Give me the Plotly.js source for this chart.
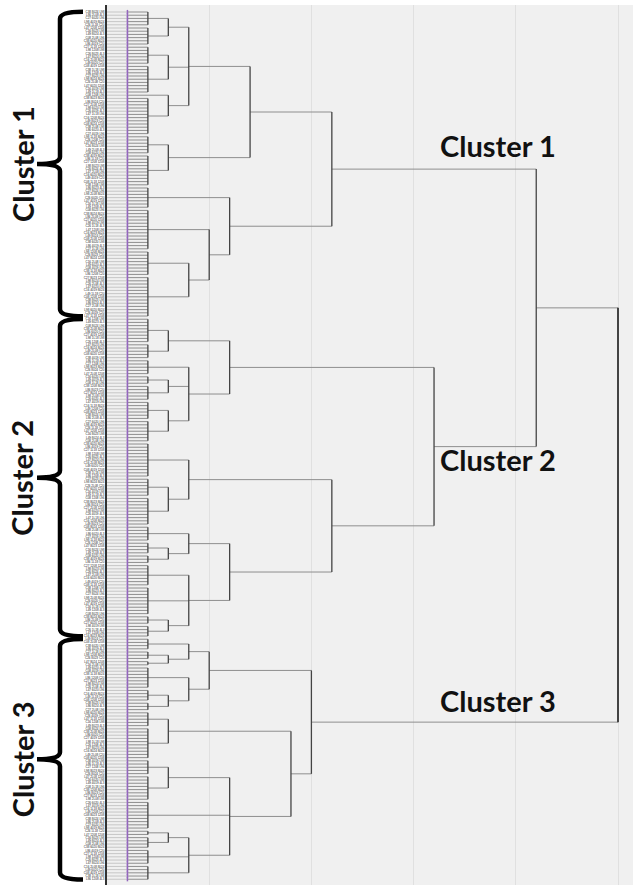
<!DOCTYPE html>
<html><head><meta charset="utf-8">
<script src="https://cdn.plot.ly/plotly-3.0.1.min.js"></script>
<style>html,body{margin:0;padding:0;background:#fff}</style>
</head><body><div id="chart" style="width:633px;height:886px"></div>
<script>
// ---- data ----
// merge height (distance) of each node; a plain number = a group of that many
// leaves joined at the first merge level (1 = a single leaf)
const leafTip = 0.2;
const baseMerge = 0.4;
const cluster1 = [2.2,
  [1.4,
    [0.8, [0.6, 5, 6], [0.6, 6, 9], [0.6, 1, 12]],
    [0.6, 6, 10]],
  [1.2, 7, [1.0, 13, [0.8, 8, 13]]]];
const cluster2 = [3.2,
  [1.2, [0.6, 8, 5], [0.8, 5, [0.6, 3, 5], [0.6, 6, 7]]],
  [2.2,
    [0.8, 11, [0.6, 6, 9]],
    [1.2, [0.8, 5, [0.6, 4, 3]], [0.8, 7, 9, [0.6, 3, 4]]]]];
const cluster3 = [2.0,
  [1.0, [0.8, 4, [0.6, 3, 2]], [0.8, 7, [0.6, 4, 3]]],
  [1.8, [0.6, 5, 10], [1.2, [0.6, 5, 8], 9, [0.8, [0.6, 2, 4], 5, 5]]]];
const mergeC12 = 4.2;
const mergeRoot = 5.0;
const clusterNames = ['Cluster 1', 'Cluster 2', 'Cluster 3'];
const labelPart1 = ['C38', 'L86', 'C27', 'L98', 'C26', 'L47', 'C16', 'L49', 'C08'];
const labelPart2 = ['8024', '1208', '4019', '2L08', '8023', '1L18', '6020'];
const labelPart3 = ['L98', '1208', 'C20', '8024', 'L96', '4L3'];

// ---- build dendrogram geometry ----
const clusters = [cluster1, cluster2, cluster3];
const tree = [mergeRoot, [mergeC12, cluster1, cluster2], cluster3];
function countLeaves(n) { return typeof n === 'number' ? n : n.slice(1).reduce((a, c) => a + countLeaves(c), 0); }
const nLeaves = countLeaves(tree);
const leafLabels = [];
for (let i = 0; i < nLeaves; i++) {
  leafLabels.push(labelPart1[i % labelPart1.length] + ' ' + labelPart2[(i * 3) % labelPart2.length] + ' ' + labelPart3[(i * 5) % labelPart3.length]);
}
const H = {x: [], y: []}, V = {x: [], y: []}, S = {x: [], y: []}, M = {x: [], y: []}, R = {x: [], y: []};
let next = 0;
function build(node) {
  if (typeof node === 'number') {
    const ids = [];
    for (let k = 0; k < node; k++) ids.push(next++);
    ids.forEach(i => { S.x.push(0, leafTip, null); S.y.push(i, i, null); M.x.push(leafTip); M.y.push(i); });
    if (node === 1) return {y: ids[0], h: leafTip};
    ids.forEach(i => { H.x.push(leafTip, baseMerge, null); H.y.push(i, i, null); });
    V.x.push(baseMerge, baseMerge, null); V.y.push(ids[0], ids[ids.length - 1], null);
    return {y: (ids[0] + ids[ids.length - 1]) / 2, h: baseMerge};
  }
  const h = node[0];
  const kids = node.slice(1).map(build);
  kids.forEach(k => { H.x.push(k.h, h, null); H.y.push(k.y, k.y, null); });
  const ys = kids.map(k => k.y);
  const lo = Math.min(...ys), hi = Math.max(...ys);
  const tgt = (node === tree) ? R : V;
  tgt.x.push(h, h, null); tgt.y.push(lo, hi, null);
  return {y: (lo + hi) / 2, h: h};
}
build(tree);

// cluster leaf ranges
const ranges = [];
let start = 0;
clusters.forEach(c => { const n = countLeaves(c); ranges.push([start, start + n - 1]); start += n; });

const traces = [
  {type: 'scatter', mode: 'lines', x: S.x, y: S.y, line: {color: '#c6c6c6', width: 1}, hoverinfo: 'skip', connectgaps: false},
  {type: 'scatter', mode: 'lines', x: H.x, y: H.y, line: {color: '#8e8e8e', width: 1}, hoverinfo: 'skip', connectgaps: false},
  {type: 'scatter', mode: 'lines', x: V.x, y: V.y, line: {color: '#444', width: 1.3}, hoverinfo: 'skip', connectgaps: false},
  {type: 'scatter', mode: 'lines', x: R.x, y: R.y, line: {color: '#444', width: 2}, hoverinfo: 'skip'},
  {type: 'scatter', mode: 'markers', x: M.x, y: M.y, marker: {symbol: 'line-ns-open', size: 3, line: {color: '#333', width: 1.5}}, hoverinfo: 'skip'},
  {type: 'scatter', mode: 'markers', x: [0], y: [0], xaxis: 'x2', yaxis: 'y', marker: {opacity: 0}, hoverinfo: 'skip'}
];

const W = 633;
const plotLeft = 107;
const shapes = [
  {type: 'rect', xref: 'x domain', yref: 'y domain', x0: 0, x1: 1, y0: 0, y1: 1, fillcolor: '#f0f0f0', line: {width: 0}, layer: 'below'}
];
const annotations = [];
const hookX = 83, stemX = 60, tipX = 37, d = 2.2;
ranges.forEach((r, k) => {
  const y0 = r[0] - 0.1, y1 = r[1] + 0.1, ym = (r[0] + r[1]) / 2;
  shapes.push({
    type: 'path', xref: 'x2', yref: 'y', line: {color: '#000', width: 4.5},
    path: `M ${hookX},${y0} Q ${stemX},${y0} ${stemX},${y0 + d} L ${stemX},${ym - d} Q ${stemX},${ym} ${tipX},${ym} Q ${stemX},${ym} ${stemX},${ym + d} L ${stemX},${y1 - d} Q ${stemX},${y1} ${hookX},${y1}`
  });
  annotations.push({xref: 'x2', yref: 'y', x: 22, y: ym, text: clusterNames[k], textangle: -90, showarrow: false,
    font: {family: 'Lato', size: 29, color: '#111', weight: 700}});
});
const labelY = [47.8, 146, 221.3];
labelY.forEach((yv, k) => {
  annotations.push({xref: 'x', yref: 'y', x: 3.235, y: yv, text: clusterNames[k], showarrow: false,
    xanchor: 'left', yanchor: 'bottom', font: {family: 'Lato', size: 29, color: '#111', weight: 700}});
});

const layout = {
  width: W, height: 886,
  margin: {l: 0, r: 0, t: 5, b: 1},
  paper_bgcolor: '#fff', plot_bgcolor: 'rgba(0,0,0,0)',
  showlegend: false,
  xaxis: {domain: [plotLeft / W, 1], range: [0, (W - plotLeft) / 102.2], tick0: 0, dtick: 1, showgrid: true,
    gridcolor: '#e0e0e0', gridwidth: 1, zeroline: false, showticklabels: false, ticks: '', showline: false, fixedrange: true},
  xaxis2: {domain: [0, 95 / W], range: [0, 95], anchor: 'y', visible: false, fixedrange: true},
  yaxis: {anchor: 'x', range: [272.8, -2.19], tickmode: 'array', tickvals: leafLabels.map((_, i) => i), ticktext: leafLabels,
    tickfont: {family: 'Liberation Sans', size: 3, color: '#222'}, ticks: '', showgrid: false, zeroline: false,
    showline: true, linecolor: '#333', linewidth: 2, fixedrange: true},
  shapes: shapes,
  annotations: annotations
};
Plotly.newPlot('chart', traces, layout, {displayModeBar: false, staticPlot: true});
</script></body></html>
